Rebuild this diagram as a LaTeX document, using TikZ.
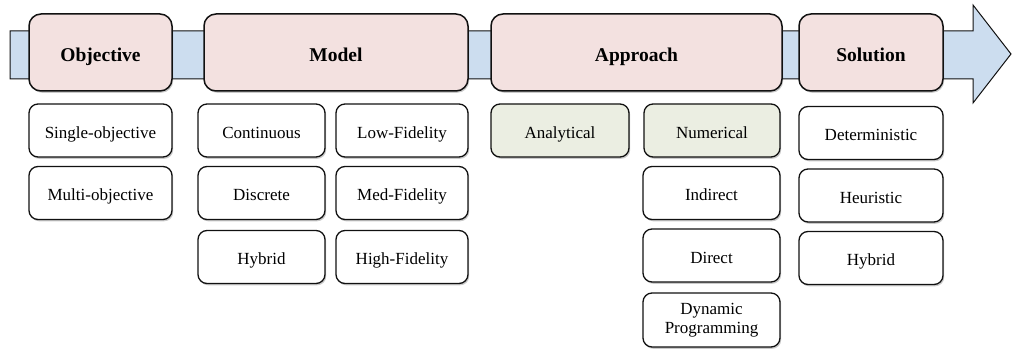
\documentclass[tikz,border=0pt]{standalone}
\usepackage{fontspec}
\setmainfont{Liberation Serif}
\usetikzlibrary{shadows}
\definecolor{bandblue}{HTML}{CCDDEF}
\definecolor{hdrpink}{HTML}{F3E1E0}
\definecolor{subgreen}{HTML}{EBEEE2}
\definecolor{edge}{HTML}{111111}
\tikzset{
  boxshadow/.style={drop shadow={shadow xshift=1.2pt, shadow yshift=-1.8pt, opacity=0.35, fill=black!60}},
  hdr/.style={draw=edge, line width=1.5pt, fill=hdrpink, rounded corners=12pt,
    minimum height=77pt, inner sep=0pt, text height=19pt, text depth=0pt,
    font=\fontsize{19.5}{22}\selectfont\bfseries, boxshadow},
  sub/.style={draw=edge, line width=1.3pt, fill=white, rounded corners=9pt,
    minimum height=53pt, inner sep=0pt, align=center,
    text height=15.5pt, text depth=0pt,
    font=\fontsize{17}{19}\selectfont, boxshadow},
  subg/.style={sub, fill=subgreen},
  band/.style={draw=edge, line width=1pt, fill=bandblue}
}
\begin{document}
\begin{tikzpicture}[x=1pt, y=-1pt]
\useasboundingbox (0,0) rectangle (1013,352);

% timeline arrow behind the headers
\draw[band] (10,31) -- (973,31) -- (973,5) -- (1011,54) -- (973,103) -- (973,79) -- (10,79) -- cycle;

% stage headers
\node[hdr, minimum width=143pt] (obj)  at (100.5,52.5) {Objective};
\node[hdr, minimum width=264pt] (mod)  at (336,52.5)   {Model};
\node[hdr, minimum width=291pt] (app)  at (636.5,52.5) {Approach};
\node[hdr, minimum width=144pt] (sol)  at (871,52.5)   {Solution};

% objective options
\node[sub, minimum width=143pt] (single) at (100.5,130.5) {Single-objective};
\node[sub, minimum width=143pt] (multi)  at (100.5,193)   {Multi-objective};

% model options
\node[sub, minimum width=127pt] (cont)  at (261.5,130.5) {Continuous};
\node[sub, minimum width=127pt] (disc)  at (261.5,193)   {Discrete};
\node[sub, minimum width=127pt] (mhyb)  at (261.5,257)   {Hybrid};
\node[sub, minimum width=132pt] (lowf)  at (402,130.5)   {Low-Fidelity};
\node[sub, minimum width=132pt] (medf)  at (402,193)     {Med-Fidelity};
\node[sub, minimum width=132pt] (highf) at (402,257)     {High-Fidelity};

% approach options
\node[subg, minimum width=138pt] (anal) at (560,130.5)   {Analytical};
\node[subg, minimum width=136pt] (num)  at (712,130.5)   {Numerical};
\node[sub,  minimum width=137pt] (ind)  at (711.5,193)   {Indirect};
\node[sub,  minimum width=137pt] (dir)  at (711.5,255.5) {Direct};
\node[sub,  minimum width=137pt, minimum height=54pt, text height=, text depth=] (dp) at (711.5,320) {Dynamic\\Programming};

% solution options
\node[sub, minimum width=144pt] (det)  at (871,133)   {Deterministic};
\node[sub, minimum width=144pt] (heur) at (871,195.5) {Heuristic};
\node[sub, minimum width=144pt] (shyb) at (871,258)   {Hybrid};
\end{tikzpicture}
\end{document}
